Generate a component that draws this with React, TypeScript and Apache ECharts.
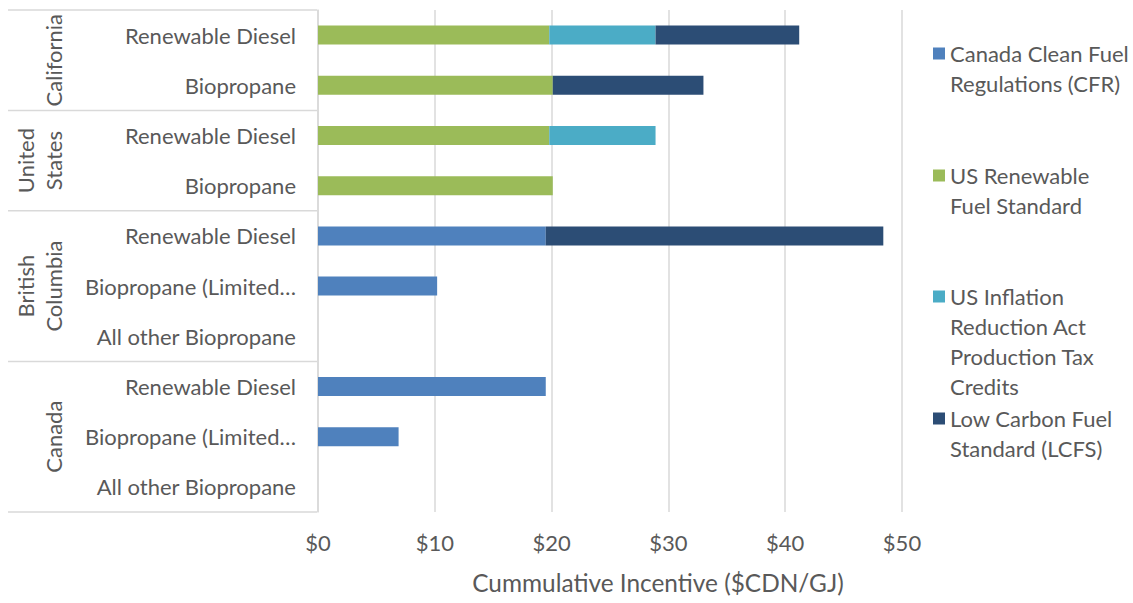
import React, { useEffect, useRef } from "react";
import * as echarts from "echarts";

// ---- Data ----
const categories = [
  "Renewable Diesel",
  "Biopropane",
  "Renewable Diesel",
  "Biopropane",
  "Renewable Diesel",
  "Biopropane (Limited…",
  "All other Biopropane",
  "Renewable Diesel",
  "Biopropane (Limited…",
  "All other Biopropane",
];
const groupNames = ["California", "United\nStates", "British\nColumbia", "Canada"];
const groupSizes = [2, 2, 3, 3];

const seriesNames = [
  "Canada Clean Fuel Regulations (CFR)",
  "US Renewable Fuel Standard",
  "US Inflation Reduction Act Production Tax Credits",
  "Low Carbon Fuel Standard (LCFS)",
];
const legendLabels = [
  "Canada Clean Fuel\nRegulations (CFR)",
  "US Renewable\nFuel Standard",
  "US Inflation\nReduction Act\nProduction Tax\nCredits",
  "Low Carbon Fuel\nStandard (LCFS)",
];
const cfrValues = [null, null, null, null, 19.5, 10.2, null, 19.5, 6.9, null];
const rfsValues = [19.8, 20.1, 19.8, 20.1, null, null, null, null, null, null];
const iraValues = [9.1, null, 9.1, null, null, null, null, null, null, null];
const lcfsValues = [12.3, 12.9, null, null, 28.9, null, null, null, null, null];
const xTicks = [0, 10, 20, 30, 40, 50];

const colors = ["#4F81BD", "#9BBB59", "#4BACC6", "#2C4D75"];
const FONT = "Lato";
const TEXT_COLOR = "#595959";
const LINE_COLOR = "#D9D9D9";
const FS = 22;

export default function App() {
  const ref = useRef<HTMLDivElement>(null);
  useEffect(() => {
    document.body.style.margin = "0";
    const chart = echarts.init(ref.current!, null, { renderer: "svg" });
    const seriesData = [cfrValues, rfsValues, iraValues, lcfsValues];
    const legendCenters = [53.5, 175.5, 296.5, 418.5];
    const LH = 30;
    const catKeys = categories.map((c, i) => i + "|" + c);
    const option: any = {
      animation: false,
      color: colors,
      textStyle: { fontFamily: FONT, color: TEXT_COLOR },
      grid: { left: 318, right: 231, top: 10, bottom: 91, containLabel: false },
      xAxis: {
        type: "value",
        min: xTicks[0],
        max: xTicks[xTicks.length - 1],
        interval: 10,
        axisLine: { show: false },
        axisTick: { show: false },
        splitLine: { show: true, lineStyle: { color: LINE_COLOR, width: 1.5 } },
        axisLabel: {
          formatter: (v: number) => "$" + v,
          fontFamily: FONT,
          fontSize: FS,
          color: TEXT_COLOR,
          margin: 19,
        },
        name: "Cummulative Incentive ($CDN/GJ)",
        nameLocation: "middle",
        nameGap: 58,
        nameTextStyle: { fontFamily: FONT, fontSize: 24.4, color: TEXT_COLOR, padding: [0, 0, 0, 96] },
      },
      yAxis: {
        type: "category",
        inverse: true,
        data: catKeys,
        axisLine: { show: true, lineStyle: { color: LINE_COLOR, width: 1.5 } },
        axisTick: { show: false },
        splitLine: { show: false },
        axisLabel: {
          formatter: (v: string) => v.split("|")[1],
          fontFamily: FONT,
          fontSize: FS,
          color: TEXT_COLOR,
          margin: 22,
          padding: [0, 0, 4, 0],
        },
      },
      legend: seriesNames.map((n, i) => {
        const lines = legendLabels[i].split("\n").length;
        return {
          data: [n],
          orient: "vertical",
          left: 933,
          top: legendCenters[i] - ((2 * lines - 1) * LH) / 2,
          padding: 0,
          itemWidth: 12,
          itemHeight: 12,
          icon: "rect",
          selectedMode: false,
          formatter: () => "\n".repeat(lines - 1) + legendLabels[i],
          textStyle: {
            fontFamily: FONT,
            fontSize: FS,
            color: TEXT_COLOR,
            lineHeight: LH,
          },
        };
      }),
      series: seriesNames.map((n, i) => ({
        name: n,
        type: "bar",
        stack: "total",
        barWidth: 19,
        data: seriesData[i],
        itemStyle: { color: colors[i] },
      })),
    };
    chart.setOption(option);

    // Group labels and separators on the left
    const c0 = chart.convertToPixel({ yAxisIndex: 0 }, catKeys[0]) as number;
    const c1 = chart.convertToPixel({ yAxisIndex: 0 }, catKeys[1]) as number;
    const rowH = c1 - c0;
    const top = c0 - rowH / 2;
    const graphics: any[] = [];
    let start = 0;
    graphics.push({
      type: "line",
      shape: { x1: 8, y1: top, x2: 317, y2: top },
      style: { stroke: LINE_COLOR, lineWidth: 1.5 },
      silent: true,
    });
    groupNames.forEach((g, gi) => {
      const end = start + groupSizes[gi];
      const yMid = top + ((start + end) / 2) * rowH;
      const yEnd = top + end * rowH;
      graphics.push({
        type: "line",
        shape: { x1: 8, y1: yEnd, x2: 317, y2: yEnd },
        style: { stroke: LINE_COLOR, lineWidth: 1.5 },
        silent: true,
      });
      graphics.push({
        type: "text",
        x: 67,
        y: yMid,
        rotation: Math.PI / 2,
        style: {
          text: g,
          fontFamily: FONT,
          fontSize: FS,
          fill: TEXT_COLOR,
          align: "center",
          verticalAlign: "bottom",
          lineHeight: 28,
        },
        silent: true,
      });
      start = end;
    });
    chart.setOption({ graphic: graphics });

    return () => chart.dispose();
  }, []);
  return <div ref={ref} style={{ width: 1133, height: 603 }} />;
}
